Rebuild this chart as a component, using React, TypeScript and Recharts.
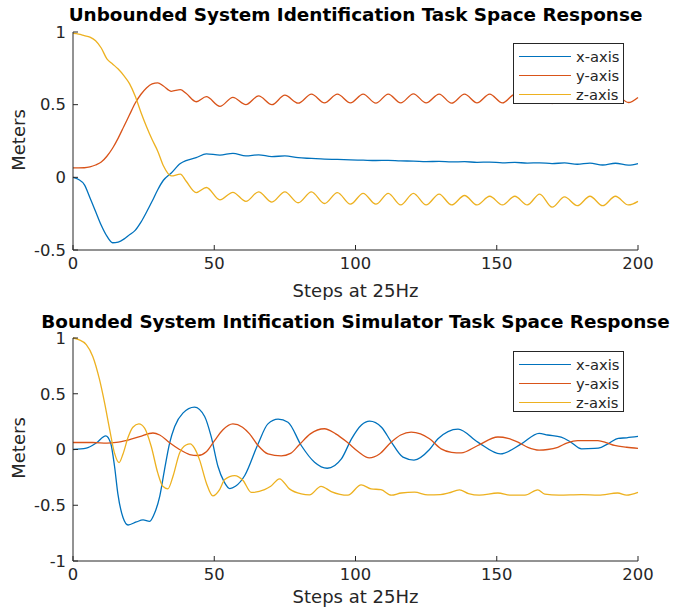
import { LineChart, Line, XAxis, YAxis, Legend } from 'recharts';

// top subplot: all three series sampled at the same steps
const topSteps = [
  0, 2, 4, 6, 8, 10, 12, 14, 16, 18, 20, 22, 24, 26, 28, 30, 32, 34.8, 38, 40,
  43.6, 47.2, 52, 56.6, 61.2, 65.7, 70.4, 75, 79.7, 84.4, 89, 93.6, 98.2, 102.7,
  107.2, 111.6, 116, 120.5, 125, 129.6, 134, 138.6, 143, 147.5, 152, 156.4, 160.8,
  165.2, 169.6, 174, 178.5, 183, 187.5, 192, 196.6, 200,
];
const topX = [
  0, -0.015, -0.05, -0.14, -0.235, -0.33, -0.405, -0.45, -0.445, -0.425, -0.395,
  -0.365, -0.31, -0.24, -0.165, -0.085, -0.02, 0.03, 0.095, 0.115, 0.135, 0.162,
  0.153, 0.165, 0.148, 0.155, 0.143, 0.147, 0.135, 0.13, 0.125, 0.123, 0.12, 0.118,
  0.116, 0.117, 0.113, 0.112, 0.108, 0.11, 0.106, 0.108, 0.103, 0.105, 0.1, 0.103,
  0.098, 0.1, 0.095, 0.099, 0.09, 0.098, 0.085, 0.097, 0.084, 0.095,
];
const topY = [
  0.065, 0.065, 0.066, 0.072, 0.085, 0.105, 0.145, 0.2, 0.27, 0.35, 0.43, 0.51,
  0.57, 0.615, 0.643, 0.65, 0.628, 0.592, 0.603, 0.578, 0.52, 0.555, 0.488, 0.55,
  0.5, 0.56, 0.5, 0.565, 0.51, 0.572, 0.512, 0.572, 0.512, 0.573, 0.51, 0.573,
  0.512, 0.574, 0.512, 0.573, 0.51, 0.572, 0.512, 0.573, 0.512, 0.57, 0.51, 0.575,
  0.508, 0.572, 0.512, 0.57, 0.512, 0.568, 0.515, 0.55,
];
const topZ = [
  0.99, 0.985, 0.975, 0.965, 0.94, 0.89, 0.815, 0.78, 0.745, 0.7, 0.645, 0.56,
  0.45, 0.35, 0.26, 0.18, 0.08, 0.01, 0.022, -0.025, -0.105, -0.07, -0.155, -0.103,
  -0.165, -0.1, -0.17, -0.1, -0.175, -0.1, -0.18, -0.105, -0.185, -0.11, -0.185,
  -0.11, -0.19, -0.11, -0.19, -0.115, -0.19, -0.125, -0.19, -0.13, -0.19, -0.13,
  -0.19, -0.115, -0.205, -0.135, -0.195, -0.13, -0.195, -0.13, -0.19, -0.165,
];

// bottom subplot: each series has its own steps
const botXSteps = [
  0, 4.7, 8.3, 11.6, 13.3, 14.7, 15.9, 17.7, 19.5, 22.4, 24.8, 27.1, 28.9, 30.7,
  32.4, 34.2, 36, 38.9, 43, 46.6, 48.9, 51.3, 53.5, 55.5, 57.5, 60.8, 65.5, 69,
  72.6, 76.1, 80.8, 85.5, 90, 95, 98.6, 102.1, 105, 109.2, 112.7, 116.8, 120.7,
  126.2, 129.2, 136.3, 143.3, 151.3, 158.7, 165, 168, 172.8, 176, 180, 184.6, 187,
  190, 193, 196, 200,
];
const botXValues = [
  0, 0.012, 0.06, 0.123, 0.06, -0.15, -0.4, -0.61, -0.677, -0.65, -0.632, -0.645,
  -0.57, -0.42, -0.18, 0.057, 0.207, 0.326, 0.38, 0.296, 0.117, -0.15, -0.29,
  -0.35, -0.33, -0.233, 0.05, 0.23, 0.272, 0.245, 0.036, -0.114, -0.168, -0.084,
  0.096, 0.22, 0.255, 0.2, 0.066, -0.069, -0.095, 0.0, 0.096, 0.183, 0.066, -0.039,
  0.05, 0.145, 0.13, 0.11, 0.07, 0.006, 0.01, 0.02, 0.06, 0.1, 0.105, 0.117,
];
const botYSteps = [
  0, 7, 12, 15.3, 19.5, 23.6, 28.3, 30.7, 34.2, 37.7, 41.3, 44.2, 47.2, 50.1, 53,
  56.6, 60, 62.5, 65.5, 69, 73.7, 77, 80, 84, 89, 93, 97.3, 101, 104.9, 108.5,
  112.6, 116, 119.7, 123, 126.2, 130.3, 134, 137.4, 143.3, 150.4, 154, 157.5, 161,
  165, 168, 171.6, 175, 178.7, 185.8, 189, 191.7, 196, 200,
];
const botYValues = [
  0.063, 0.063, 0.057, 0.063, 0.085, 0.115, 0.148, 0.13, 0.06, 0.0, -0.045, -0.054,
  -0.02, 0.08, 0.175, 0.23, 0.2, 0.14, 0.036, -0.04, -0.058, -0.035, 0.04, 0.14,
  0.186, 0.14, 0.06, -0.02, -0.075, -0.04, 0.066, 0.13, 0.156, 0.14, 0.096, 0.006,
  -0.025, -0.03, 0.036, 0.112, 0.1, 0.066, 0.02, -0.005, 0.0, 0.02, 0.06, 0.08,
  0.08, 0.06, 0.036, 0.02, 0.01,
];
const botZSteps = [
  0, 2, 4.7, 7, 9.4, 11.2, 13, 14.7, 16.3, 17.7, 19.5, 21.2, 23.3, 25.4, 27.7, 30,
  31.8, 33.6, 35.4, 37.7, 40, 41.5, 43, 44.8, 47.2, 49.5, 51.9, 53.7, 57.2, 60.2,
  63.1, 67.8, 70, 73.1, 76.6, 80.8, 83.7, 87.8, 91.4, 97.3, 102, 105.5, 109, 112.7,
  116.2, 120.9, 125.6, 130, 133, 136.8, 140, 143.8, 150.4, 155, 160, 164.5, 167,
  172, 180, 186, 192.8, 196, 200,
];
const botZValues = [
  1.0, 0.985, 0.94, 0.835, 0.626, 0.416, 0.177, -0.033, -0.117, -0.04, 0.11, 0.2,
  0.23, 0.19, 0.027, -0.21, -0.33, -0.353, -0.24, -0.033, 0.04, 0.05, 0.012,
  -0.093, -0.3, -0.416, -0.36, -0.27, -0.234, -0.278, -0.385, -0.36, -0.33, -0.263,
  -0.353, -0.398, -0.407, -0.33, -0.377, -0.41, -0.317, -0.353, -0.36, -0.41,
  -0.39, -0.383, -0.407, -0.405, -0.39, -0.362, -0.395, -0.41, -0.39, -0.41, -0.41,
  -0.362, -0.4, -0.41, -0.405, -0.41, -0.39, -0.41, -0.385,
];

const xTicks = [0, 50, 100, 150, 200];
const topYTicks = [-0.5, 0, 0.5, 1];
const botYTicks = [-1, -0.5, 0, 0.5, 1];

const topData = topSteps.map((step, i) => ({ step, x: topX[i], y: topY[i], z: topZ[i] }));
const toSeries = (steps: number[], values: number[]) =>
  steps.map((step, i) => ({ step, v: values[i] }));
const botX = toSeries(botXSteps, botXValues);
const botY = toSeries(botYSteps, botYValues);
const botZ = toSeries(botZSteps, botZValues);

const BLUE = '#0072BD';
const RED = '#D95319';
const YELLOW = '#EDB120';
const INK = '#262626';
const FONT = '"DejaVu Sans", sans-serif';

const tickStyle = { fill: INK, fontSize: 16.4, fontFamily: FONT };

function LegendBox(props: any) {
  return (
    <div
      style={{
        width: 111,
        height: 61,
        boxSizing: 'border-box',
        border: `1px solid ${INK}`,
        background: '#fff',
        padding: '3px 0 0 5px',
        fontFamily: FONT,
      }}
    >
      {(props.payload || []).map((entry: any) => (
        <div key={entry.value} style={{ display: 'flex', alignItems: 'center', height: 19 }}>
          <span style={{ width: 52, borderTop: `1.5px solid ${entry.color}`, marginRight: 5 }} />
          <span style={{ fontSize: 14.7, color: INK, lineHeight: '19px' }}>{entry.value}</span>
        </div>
      ))}
    </div>
  );
}

function Title({ text, top }: { text: string; top: number }) {
  return (
    <div
      style={{
        position: 'absolute',
        left: 355.5,
        top,
        transform: 'translateX(-50%)',
        whiteSpace: 'nowrap',
        fontWeight: 'bold',
        fontSize: 18.4,
        color: '#000',
        lineHeight: '18px',
      }}
    >
      {text}
    </div>
  );
}

function YLabel({ center }: { center: number }) {
  return (
    <div
      style={{
        position: 'absolute',
        left: 18,
        top: center,
        transform: 'translate(-50%, -50%) rotate(-90deg)',
        whiteSpace: 'nowrap',
        fontSize: 18,
        color: INK,
      }}
    >
      Meters
    </div>
  );
}

function Axes({ domain, ticks, xHeight, labelOffset }: any) {
  return [
    <XAxis
      key="x"
      dataKey="step"
      type="number"
      domain={[0, 200]}
      ticks={xTicks}
      interval={0}
      height={xHeight}
      stroke={INK}
      tick={tickStyle}
      tickSize={-5}
      tickMargin={12}
      allowDuplicatedCategory={false}
      label={{ value: 'Steps at 25Hz', position: 'insideBottom', offset: labelOffset, fill: INK, fontSize: 18, fontFamily: FONT }}
    />,
    <YAxis
      key="y"
      type="number"
      domain={domain}
      ticks={ticks}
      interval={0}
      width={73}
      stroke={INK}
      tick={tickStyle}
      tickSize={-5}
      tickMargin={12}
    />,
  ];
}

export default function App() {
  return (
    <div
      style={{
        position: 'absolute',
        left: 0,
        top: 0,
        width: 673,
        height: 609,
        background: '#fff',
        fontFamily: FONT,
        overflow: 'hidden',
      }}
    >
      <div style={{ position: 'absolute', left: 0, top: 0 }}>
        <LineChart width={673} height={300} data={topData} margin={{ top: 32, right: 35, bottom: 0, left: 0 }}>
          {Axes({ domain: [-0.5, 1], ticks: topYTicks, xHeight: 50, labelOffset: 3 })}
          <Line type="monotone" dataKey="x" name="x-axis" stroke={BLUE} strokeWidth={1.3} dot={false} isAnimationActive={false} />
          <Line type="monotone" dataKey="y" name="y-axis" stroke={RED} strokeWidth={1.3} dot={false} isAnimationActive={false} />
          <Line type="monotone" dataKey="z" name="z-axis" stroke={YELLOW} strokeWidth={1.3} dot={false} isAnimationActive={false} />
          <Legend
            layout="vertical"
            align="center"
            verticalAlign="middle"
            content={LegendBox}
            wrapperStyle={{ left: 513, top: 43, width: 111 }}
          />
        </LineChart>
      </div>
      <div style={{ position: 'absolute', left: 0, top: 306 }}>
        <LineChart width={673} height={303} margin={{ top: 32, right: 35, bottom: 0, left: 0 }}>
          {Axes({ domain: [-1, 1], ticks: botYTicks, xHeight: 48, labelOffset: 6 })}
          <Line data={botX} type="monotone" dataKey="v" name="x-axis" stroke={BLUE} strokeWidth={1.3} dot={false} isAnimationActive={false} />
          <Line data={botY} type="monotone" dataKey="v" name="y-axis" stroke={RED} strokeWidth={1.3} dot={false} isAnimationActive={false} />
          <Line data={botZ} type="monotone" dataKey="v" name="z-axis" stroke={YELLOW} strokeWidth={1.3} dot={false} isAnimationActive={false} />
          <Legend
            layout="vertical"
            align="center"
            verticalAlign="middle"
            content={LegendBox}
            wrapperStyle={{ left: 513, top: 45, width: 111 }}
          />
        </LineChart>
      </div>
      <Title text="Unbounded System Identification Task Space Response" top={6} />
      <Title text="Bounded System Intification Simulator Task Space Response" top={313} />
      <YLabel center={140} />
      <YLabel center={448} />
    </div>
  );
}
